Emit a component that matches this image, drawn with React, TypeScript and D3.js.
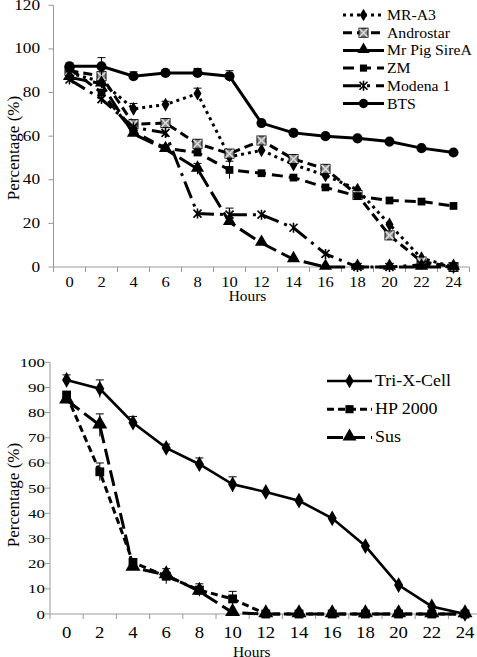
import React from "react";
import * as d3 from "d3";

const hours = [0, 2, 4, 6, 8, 10, 12, 14, 16, 18, 20, 22, 24];
const hourLabels = hours.map(String);

// Top chart series
const mrA3 = [89, 85, 72.5, 74.5, 79.5, 50.5, 53.5, 47, 42, 35.5, 19.5, 4, 0];
const androstar = [90, 87.5, 65.5, 66, 56.5, 52, 58, 49.5, 45, 33, 14.5, 2.5, 0];
const mrPig = [87, 84, 61, 54, 45, 20.5, 11, 3.5, 0, 0, 0, 0, 0];
const zm = [91, 80, 62, 54.5, 52.5, 44.5, 43, 41, 36.5, 32.5, 30.5, 30, 28];
const modena = [86, 77, 64, 61.5, 24.5, 24, 24, 18, 6, 0, 0, 1, 0];
const bts = [92, 92, 87.5, 89, 89, 87.5, 66, 61.5, 60, 59, 57.5, 54.5, 52.5];

const mrA3Err = [0, 0, 2.5, 1.5, 2.5, 0, 0, 0, 0, 0, 0, 0, 0];
const androErr = [0, 1.5, 0, 0, 0, 0, 0, 0, 0, 0, 0, 0, 0];
const mrPigErr = [0, 0, 0, 0, 2.5, 0, 0, 0, 0, 0, 0, 0, 0];
const zmErr = [0, 0, 0, 0, 0, 4, 0, 0, 0, 0, 0, 0, 0];
const modenaErr = [0, 0, 0, 0, 0, 3, 0, 0, 0, 0, 0, 0, 0];
const btsErr = [1.5, 4, 2, 1, 2, 2.5, 0, 0, 0, 0, 0, 0, 0];

const topTicks = [0, 20, 40, 60, 80, 100, 120];

// Bottom chart series
const triX = [93, 89.5, 76, 66, 59.5, 51.5, 48.5, 45, 38, 27, 11.5, 3, 0];
const hp2000 = [87, 56.5, 20.5, 15, 9.5, 6, 0, 0, 0, 0, 0, 0, 0];
const sus = [85, 75, 18.5, 15.5, 9, 0.5, 0, 0, 0, 0, 0, 0, 0];
const triXErr = [2, 3.5, 2.5, 1.5, 2.5, 3, 0, 0, 0, 0, 0, 0, 0];
const hpErr = [0, 3.5, 0, 3, 2.5, 3, 0, 0, 0, 0, 0, 0, 0];
const susErr = [0, 4.5, 0, 0, 0, 0, 0, 0, 0, 0, 0, 0, 0];

const bottomTicks = [0, 10, 20, 30, 40, 50, 60, 70, 80, 90, 100];

const FONT = "Liberation Serif";

type Marker = "diamond" | "xsquare" | "triangle" | "square" | "asterisk" | "circle";

function MarkerShape({ type, x, y, s = 1 }: { type: Marker; x: number; y: number; s?: number }) {
  const t = `translate(${x},${y})`;
  if (type === "diamond")
    return <path transform={t} d={d3.symbol(d3.symbolDiamond, 55 * s)()!} fill="#000" />;
  if (type === "triangle")
    return <path transform={`${t} translate(0,-1)`} d={d3.symbol(d3.symbolTriangle, 75 * s)()!} fill="#000" />;
  if (type === "square")
    return <path transform={t} d={d3.symbol(d3.symbolSquare, 60 * s)()!} fill="#000" />;
  if (type === "circle")
    return <path transform={t} d={d3.symbol(d3.symbolCircle, 80 * s)()!} fill="#000" />;
  if (type === "xsquare")
    return (
      <g transform={t}>
        <rect x={-4.5} y={-4.5} width={9} height={9} fill="#888" stroke="#000" strokeWidth={1} />
        <path d="M-4,-4L4,4M4,-4L-4,4" stroke="#ddd" strokeWidth={1.5} />
      </g>
    );
  return (
    <g transform={t} stroke="#000" strokeWidth={1.6}>
      <path d="M-4,-4L4,4M4,-4L-4,4M0,-5L0,5" />
    </g>
  );
}

function Txt({ x, y, children, size, anchor = "start", sx = 1 }: any) {
  return (
    <g transform={`translate(${x},${y}) scale(${sx},1)`}>
      <text x={0} y={0} fontFamily={FONT} fontSize={size} textAnchor={anchor} fill="#000">
        {children}
      </text>
    </g>
  );
}

type Series = { name: string; values: number[]; err: number[]; dash: string; marker: Marker; width: number };

const topSeries: Series[] = [
  { name: "MR-A3", values: mrA3, err: mrA3Err, dash: "3,4", marker: "diamond", width: 3 },
  { name: "Androstar", values: androstar, err: androErr, dash: "9,5", marker: "xsquare", width: 3 },
  { name: "Mr Pig SireA", values: mrPig, err: mrPigErr, dash: "18,6", marker: "triangle", width: 3 },
  { name: "ZM", values: zm, err: zmErr, dash: "11,6", marker: "square", width: 3 },
  { name: "Modena 1", values: modena, err: modenaErr, dash: "18,6,3,6", marker: "asterisk", width: 3 },
  { name: "BTS", values: bts, err: btsErr, dash: "", marker: "circle", width: 3 },
];

const bottomSeries: Series[] = [
  { name: "Tri-X-Cell", values: triX, err: triXErr, dash: "", marker: "diamond", width: 2.6 },
  { name: "HP 2000", values: hp2000, err: hpErr, dash: "7,4", marker: "square", width: 3 },
  { name: "Sus", values: sus, err: susErr, dash: "16,6", marker: "triangle", width: 3 },
];

function Chart({
  series,
  xRange,
  yRange,
  yMax,
  ticks,
  yLabelX,
  yTickSize,
  yTickSx,
  xLabelY,
  xLabelSize,
  hoursY,
  titleX,
  titleY,
  legendX,
  legendY,
  legendStep,
  legendLineW,
  legendSize,
  legendSx,
  markerScale,
}: any) {
  const x = d3.scaleBand<string>().domain(hourLabels).range(xRange).padding(0);
  const y = d3.scaleLinear().domain([0, yMax]).range(yRange);
  const cx = (i: number) => (x(hourLabels[i]) as number) + x.bandwidth() / 2;
  const line = d3
    .line<number>()
    .x((_, i) => cx(i))
    .y((d) => y(d));
  const axisColor = "#999";
  const y0 = yRange[0];
  const boundaries = d3.range(hourLabels.length + 1).map((k) => xRange[0] + k * x.bandwidth());
  return (
    <g>
      <line x1={xRange[0]} x2={xRange[0]} y1={y0} y2={yRange[1]} stroke={axisColor} strokeWidth={1} />
      <line x1={xRange[0]} x2={xRange[1]} y1={y0} y2={y0} stroke={axisColor} strokeWidth={1} />
      {ticks.map((t: number) => (
        <g key={"yt" + t}>
          <line x1={xRange[0] - 5} x2={xRange[0]} y1={y(t)} y2={y(t)} stroke={axisColor} />
          <Txt x={yLabelX} y={y(t) + 4.5} size={yTickSize} anchor="end" sx={yTickSx}>
            {t}
          </Txt>
        </g>
      ))}
      {boundaries.map((b, k) => (
        <line key={"xt" + k} x1={b} x2={b} y1={y0} y2={y0 + 5} stroke={axisColor} />
      ))}
      {hourLabels.map((h, i) => (
        <Txt key={"xl" + h} x={cx(i)} y={xLabelY} size={xLabelSize} anchor="middle" sx={1.1}>
          {h}
        </Txt>
      ))}
      <Txt x={(xRange[0] + xRange[1]) / 2 - 14} y={hoursY} size={14} anchor="middle" sx={1.1}>
        Hours
      </Txt>
      <text
        transform={`translate(${titleX},${titleY}) rotate(-90)`}
        fontFamily={FONT}
        fontSize={17}
        textAnchor="middle"
        fill="#000"
      >
        Percentage (%)
      </text>
      {series.map((s: Series) => (
        <g key={s.name}>
          <path
            d={line(s.values)!}
            fill="none"
            stroke="#000"
            strokeWidth={s.width}
            strokeDasharray={s.dash || undefined}
          />
          {s.values.map((v, i) =>
            s.err[i] > 0 ? (
              <g key={"e" + i} stroke="#000" strokeWidth={1}>
                <line x1={cx(i)} x2={cx(i)} y1={y(v + s.err[i])} y2={y(Math.max(0, v - s.err[i]))} />
                <line x1={cx(i) - 4} x2={cx(i) + 4} y1={y(v + s.err[i])} y2={y(v + s.err[i])} />
              </g>
            ) : null
          )}
          {s.values.map((v, i) => (
            <MarkerShape key={"m" + i} type={s.marker} x={cx(i)} y={y(v)} s={markerScale} />
          ))}
        </g>
      ))}
      {series.map((s: Series, k: number) => {
        const ly = legendY + k * legendStep;
        return (
          <g key={"lg" + s.name}>
            <line
              x1={legendX}
              x2={legendX + legendLineW}
              y1={ly}
              y2={ly}
              stroke="#000"
              strokeWidth={s.width}
              strokeDasharray={s.dash || undefined}
            />
            <MarkerShape type={s.marker} x={legendX + legendLineW / 2} y={ly} s={markerScale * 0.85} />
            <Txt x={legendX + legendLineW + 3} y={ly + 5} size={legendSize} sx={legendSx}>
              {s.name}
            </Txt>
          </g>
        );
      })}
    </g>
  );
}

export default function App() {
  return (
    <svg width={477} height={657} style={{ position: "absolute", left: 0, top: 0, background: "#fff" }}>
      <rect width={477} height={657} fill="#fff" />
      <Chart
        series={topSeries}
        xRange={[53.5, 469.5]}
        yRange={[267, 5.3]}
        yMax={120}
        ticks={topTicks}
        yLabelX={40}
        yTickSize={15}
        yTickSx={1.15}
        xLabelY={287}
        xLabelSize={15}
        hoursY={301}
        titleX={19}
        titleY={148}
        legendX={343}
        legendY={15}
        legendStep={17.7}
        legendLineW={41}
        legendSize={15}
        legendSx={1.05}
        markerScale={1}
      />
      <Chart
        series={bottomSeries}
        xRange={[50, 481.6]}
        yRange={[614, 362.3]}
        yMax={100}
        ticks={bottomTicks}
        yLabelX={45}
        yTickSize={13}
        yTickSx={1.3}
        xLabelY={638}
        xLabelSize={17}
        hoursY={657}
        titleX={19}
        titleY={495}
        legendX={327}
        legendY={381}
        legendStep={28.2}
        legendLineW={45}
        legendSize={16}
        legendSx={1.12}
        markerScale={1.3}
      />
    </svg>
  );
}
